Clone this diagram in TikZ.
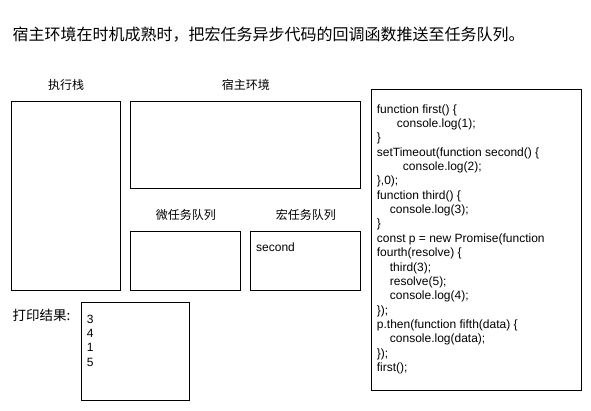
\documentclass[tikz,border=0pt]{standalone}
\usepackage{fontspec}
\setmainfont{Liberation Sans}
\newfontfamily\cjk{Noto Sans CJK SC}
\usetikzlibrary{positioning}

\tikzset{
  panel/.style={draw, line width=1pt, anchor=north west, inner sep=0pt},
  zhlabel/.style={font=\cjk\fontsize{12}{14}\selectfont, inner sep=0pt},
  codetext/.style={font=\fontsize{12}{14.35}\selectfont, align=left, inner sep=0pt},
}

\begin{document}
\begin{tikzpicture}[x=1pt, y=1pt]
    \useasboundingbox (0,0) rectangle (591,-411);

    % 1. 标题
    \node[anchor=west, inner sep=0pt, font=\cjk\fontsize{16}{18}\selectfont] (title) at (12.5,-35)
        {宿主环境在时机成熟时，把宏任务异步代码的回调函数推送至任务队列。};

    % 2. 各区域方框
    \node[panel, minimum width=109.6pt, minimum height=189.3pt] (stack) at (10.7,-100.7) {};
    \node[panel, minimum width=230pt, minimum height=87.3pt] (host) at (130.3,-100.7) {};
    \node[panel, minimum width=110pt, minimum height=59.3pt] (micro) at (130.3,-230.7) {};
    \node[panel, minimum width=110pt, minimum height=59.3pt] (macro) at (250.3,-230.7) {};
    \node[panel, minimum width=108.3pt, minimum height=98.3pt] (output) at (80.7,-301.7) {};
    \node[panel, minimum width=210pt, minimum height=300.7pt] (code) at (370.7,-89.3) {};

    % 3. 区域名称
    \node[zhlabel, above=10pt of stack] (stacklbl) {执行栈};
    \node[zhlabel, above=10pt of host] (hostlbl) {宿主环境};
    \node[zhlabel, above=10pt of micro] (microlbl) {微任务队列};
    \node[zhlabel, above=10pt of macro] (macrolbl) {宏任务队列};
    \node[zhlabel, anchor=west, font=\cjk\fontsize{13.5}{15}\selectfont] (outputlbl) at (12.5,-315) {打印结果:};

    % 4. 方框内文字
    \node[codetext, anchor=base west] (macrotext) at (256,-251.5) {second};
    \node[codetext, anchor=north west] (results) at (86.7,-314.7) {3\\4\\1\\5};
    \node[codetext, anchor=north west] (codetext) at (376.7,-104.3) {%
        function first() \{\\
        \hspace*{20pt}console.log(1);\\
        \}\\
        setTimeout(function second() \{\\
        \hspace*{26pt}console.log(2);\\
        \},0);\\
        function third() \{\\
        \hspace*{13pt}console.log(3);\\
        \}\\
        const p = new Promise(function\\
        fourth(resolve) \{\\
        \hspace*{13pt}third(3);\\
        \hspace*{13pt}resolve(5);\\
        \hspace*{13pt}console.log(4);\\
        \});\\
        p.then(function fifth(data) \{\\
        \hspace*{13pt}console.log(data);\\
        \});\\
        first();};
\end{tikzpicture}
\end{document}
